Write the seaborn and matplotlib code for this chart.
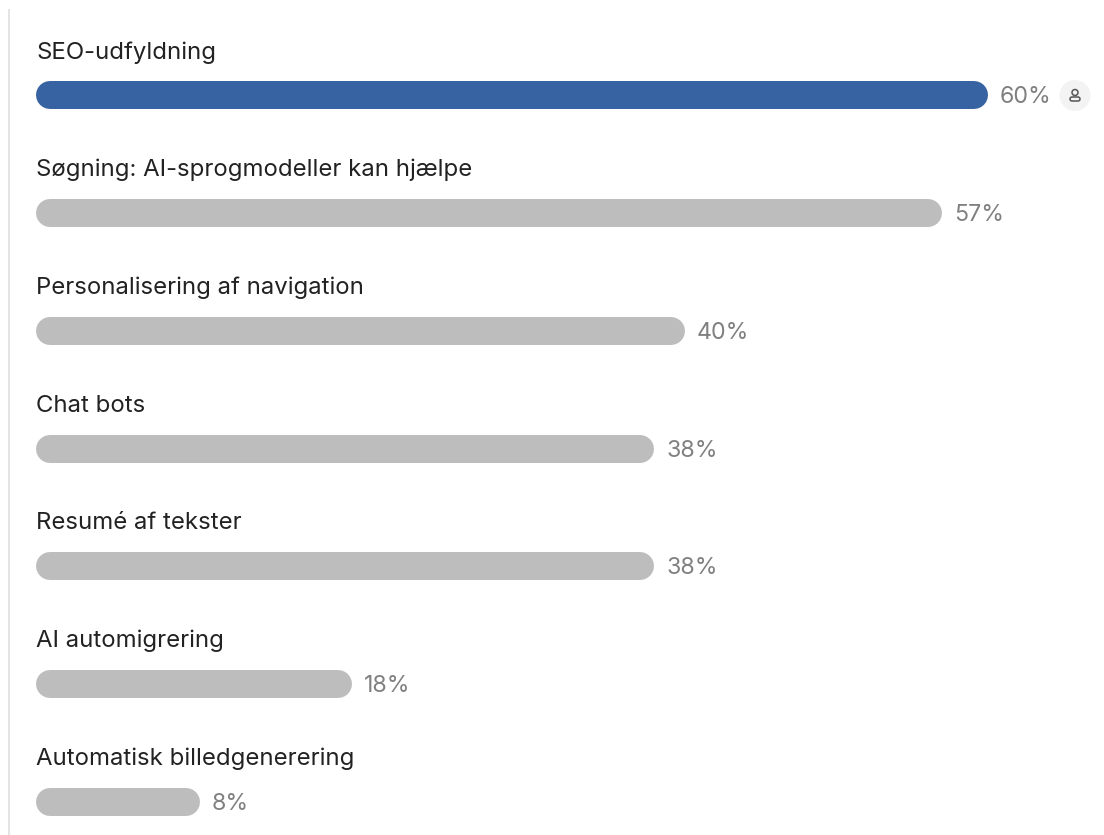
import matplotlib
matplotlib.use("Agg")
import matplotlib.pyplot as plt
import pandas as pd
import seaborn as sns
from matplotlib.patches import Circle, FancyBboxPatch, Rectangle

# Values
categories = [
    "SEO-udfyldning",
    "Søgning: AI-sprogmodeller kan hjælpe",
    "Personalisering af navigation",
    "Chat bots",
    "Resumé af tekster",
    "AI automigrering",
    "Automatisk billedgenerering",
]
percent = [60, 57, 40, 38, 38, 18, 8]
bar_colors = ["#3763a2", "#bdbdbd", "#bdbdbd", "#bdbdbd", "#bdbdbd", "#bdbdbd", "#bdbdbd"]

W, H = 1104, 835
PX_PER_PCT = 15.15
PX_PER_ROW = 117.67
ZERO_PX = 78.8
LEFT_PX = 36
BAR_PX = 28
FIRST_ROW_PX = 95.5

sns.set_theme(style="white")
plt.rcParams["font.family"] = ["Inter", "DejaVu Sans"]

df = pd.DataFrame({"label": categories, "value": percent})

fig = plt.figure(figsize=(W / 100, H / 100), dpi=100, facecolor="white")
ax = fig.add_axes([0, 0, 1, 1])
sns.barplot(data=df, x="value", y="label", hue="label", palette=bar_colors,
            width=BAR_PX / PX_PER_ROW, legend=False, ax=ax)

# pixel mapping for the data axes
ax.set_xlim(-ZERO_PX / PX_PER_PCT, (W - ZERO_PX) / PX_PER_PCT)
ax.set_ylim((H - FIRST_ROW_PX) / PX_PER_ROW, -FIRST_ROW_PX / PX_PER_ROW)
ax.axis("off")

# Swap the square bars for pills, a thick line with round caps gives true half circles.
# The bars keep a stub at 0, so they start left of the zero position.
left = (LEFT_PX - ZERO_PX) / PX_PER_PCT
cap = (BAR_PX / 2) / PX_PER_PCT
for patch, color in zip(list(ax.patches), bar_colors):
    y_mid = patch.get_y() + patch.get_height() / 2
    end = patch.get_x() + patch.get_width()
    patch.remove()
    ax.plot([left + cap, end - cap], [y_mid, y_mid], color=color,
            linewidth=BAR_PX * 0.72, solid_capstyle="round")

for i, (name, val) in enumerate(zip(categories, percent)):
    ax.text(left, i - 43 / PX_PER_ROW, name, fontsize=17.25, color="#222222",
            va="center", ha="left")
    ax.text(val + 12 / PX_PER_PCT, i + 2 / PX_PER_ROW, f"{val}%", fontsize=16.7,
            color="#808080", va="center", ha="left")

# Overlay in pixel coordinates: left rule and user badge
deco = fig.add_axes([0, 0, 1, 1], facecolor="none")
deco.set_xlim(0, W)
deco.set_ylim(H, 0)
deco.axis("off")
deco.add_patch(Rectangle((8, 9), 2, H - 9, facecolor="#e4e4e4", edgecolor="none"))
deco.add_patch(Circle((1075, 95.5), 15.5, facecolor="#f3f3f3", edgecolor="none"))
deco.add_patch(Circle((1075, 92.5), 3, facecolor="none", edgecolor="#555555", linewidth=1.1))
deco.add_patch(FancyBboxPatch((1070, 97), 10, 4, boxstyle="round,pad=0,rounding_size=2",
                              facecolor="none", edgecolor="#555555", linewidth=1.1))

fig.savefig("out.png", dpi=100)
